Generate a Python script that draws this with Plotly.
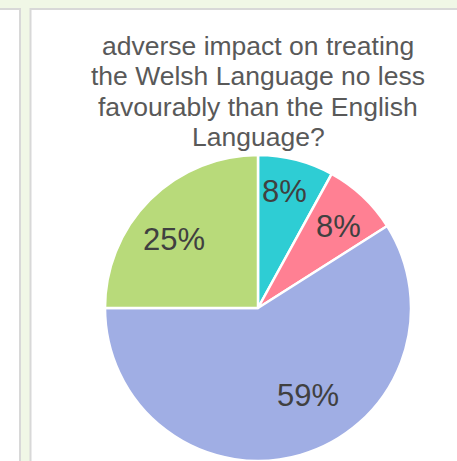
import math
import plotly.graph_objects as go

W, H = 457, 461

# Survey answer shares (percent), clockwise from 12 o'clock
answers = ["Teal answer", "Pink answer", "Blue answer", "Green answer"]
shares = [8, 8, 59, 25]
slice_colors = ["#2ecdd4", "#ff8093", "#a0aee4", "#b8da7a"]

title_lines = [
    "adverse impact on treating",
    "the Welsh Language no less",
    "favourably than the English",
    "Language?",
]

# Percent label placement inside each slice: distance from the centre as a
# fraction of the radius, and a small turn (degrees) away from the mid-angle
label_radius = [0.78, 0.75, 0.66, 0.71]
label_turn = [-1.4, 1.4, -13.5, -6.0]

FONT = "Arial, 'Liberation Sans', sans-serif"

# Pie placement in pixels
PIE_LEFT, PIE_RIGHT, PIE_TOP, PIE_BOTTOM = 105, 411, 155, 461


def px_x(v):
    return v / W


def px_y(v):
    return 1 - v / H


fig = go.Figure()

fig.add_trace(go.Pie(
    labels=answers,
    values=shares,
    sort=False,
    direction="clockwise",
    rotation=0,
    marker=dict(colors=slice_colors, line=dict(color="white", width=2.5)),
    textinfo="none",
    hoverinfo="label+percent",
    showlegend=False,
    domain=dict(x=[px_x(PIE_LEFT), px_x(PIE_RIGHT)],
                y=[px_y(PIE_BOTTOM), px_y(PIE_TOP)]),
))

# Dashboard background: two white cards with grey borders on a pale green page
shapes = [
    dict(type="rect", xref="paper", yref="paper",
         x0=px_x(-20), x1=px_x(20), y0=px_y(480), y1=px_y(9),
         fillcolor="white", line=dict(color="#d8d8d8", width=2), layer="below"),
    dict(type="rect", xref="paper", yref="paper",
         x0=px_x(30.5), x1=px_x(490), y0=px_y(480), y1=px_y(9),
         fillcolor="white", line=dict(color="#d8d8d8", width=2), layer="below"),
]

annotations = []
for i, line in enumerate(title_lines):
    annotations.append(dict(
        text=line, xref="paper", yref="paper",
        x=px_x(258), y=px_y(46 + i * 30.3),
        xanchor="center", yanchor="middle", showarrow=False,
        font=dict(family=FONT, size=26.5, color="#595959"),
    ))

# Percent labels, positioned from each slice's share of the circle
cx = (PIE_LEFT + PIE_RIGHT) / 2
cy = (PIE_TOP + PIE_BOTTOM) / 2
r = min(PIE_RIGHT - PIE_LEFT, PIE_BOTTOM - PIE_TOP) / 2
total = sum(shares)
start = 0.0
for val, frac, turn in zip(shares, label_radius, label_turn):
    mid = (start + val / 2) / total * 360 + turn
    start += val
    ang = math.radians(mid)
    lx = cx + frac * r * math.sin(ang)
    ly = cy - frac * r * math.cos(ang)
    annotations.append(dict(
        text=f"{val}%", xref="paper", yref="paper",
        x=px_x(lx), y=px_y(ly),
        xanchor="center", yanchor="middle", showarrow=False,
        font=dict(family=FONT, size=31, color="#404040"),
    ))

fig.update_layout(
    width=W, height=H,
    margin=dict(l=0, r=0, t=0, b=0),
    paper_bgcolor="#f0f7e6",
    plot_bgcolor="white",
    shapes=shapes,
    annotations=annotations,
)

fig.write_html("out.html")
